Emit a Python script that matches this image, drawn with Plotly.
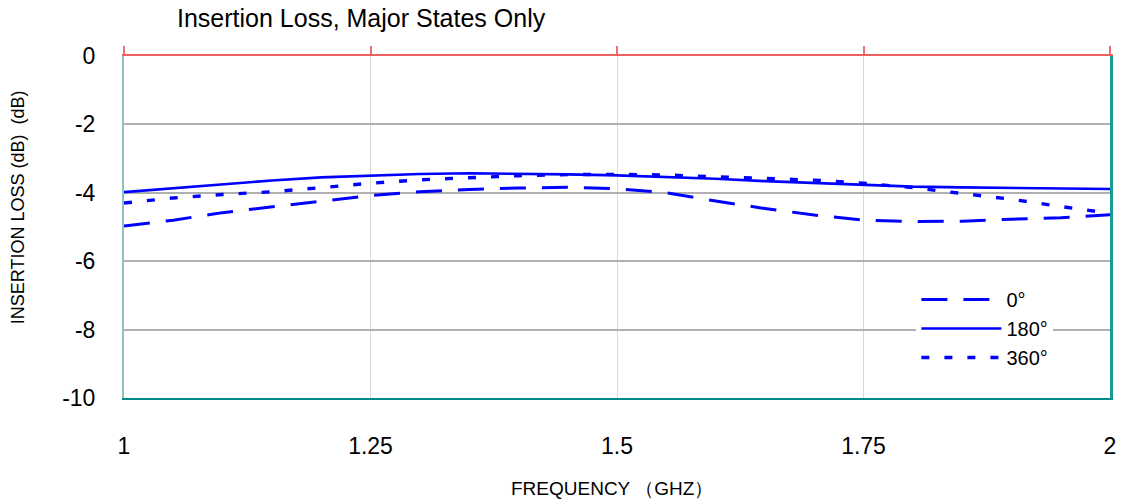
"""Insertion loss vs frequency, major phase states only."""

import plotly.graph_objects as go

freq_ghz = [1.0, 1.05, 1.1, 1.15, 1.2, 1.25, 1.3, 1.35, 1.4, 1.45, 1.5,
            1.55, 1.6, 1.65, 1.7, 1.75, 1.8, 1.85, 1.9, 1.95, 2.0]

loss_0deg = [-4.97, -4.80, -4.58, -4.42, -4.25, -4.08, -3.97, -3.90, -3.86, -3.84, -3.88,
             -4.00, -4.24, -4.46, -4.65, -4.80, -4.84, -4.83, -4.77, -4.73, -4.64]
loss_180deg = [-3.98, -3.86, -3.74, -3.64, -3.55, -3.49, -3.45, -3.43, -3.44, -3.46, -3.49,
               -3.53, -3.59, -3.66, -3.72, -3.78, -3.82, -3.84, -3.86, -3.88, -3.89]
loss_360deg = [-4.30, -4.15, -4.05, -3.97, -3.85, -3.72, -3.62, -3.55, -3.50, -3.47, -3.46,
               -3.48, -3.53, -3.56, -3.63, -3.72, -3.85, -4.02, -4.19, -4.40, -4.60]

x_ticks = [1, 1.25, 1.5, 1.75, 2]
x_tick_text = ["1", "1.25", "1.5", "1.75", "2"]
y_ticks = [0, -2, -4, -6, -8, -10]
y_tick_text = ["0", "-2", "-4", "-6", "-8", "-10"]

BLUE = "#0000FF"
FONT = "Liberation Sans, Arial, sans-serif"

fig = go.Figure()
fig.add_scatter(x=freq_ghz, y=loss_0deg, name="0°", mode="lines",
                line=dict(color=BLUE, width=3, dash="26px,16px"))
fig.add_scatter(x=freq_ghz, y=loss_180deg, name="180°", mode="lines",
                line=dict(color=BLUE, width=2.6))
fig.add_scatter(x=freq_ghz, y=loss_360deg, name="360°", mode="lines",
                line=dict(color=BLUE, width=3.4, dash="8px,15px"))

# invisible traces on the mirror axes, only to carry the frame lines and top ticks
fig.add_scatter(x=[1, 2], y=[0, 0], xaxis="x2", mode="lines",
                line=dict(width=0), showlegend=False, hoverinfo="skip")
fig.add_scatter(x=[1, 2], y=[-10, -10], yaxis="y2", mode="lines",
                line=dict(width=0), showlegend=False, hoverinfo="skip")

fig.update_layout(
    width=1128, height=503,
    margin=dict(l=124, r=16, t=56, b=105),
    paper_bgcolor="white", plot_bgcolor="white",
    font=dict(family=FONT, color="black"),
    showlegend=True,
    legend=dict(
        x=(918 - 124) / 988, y=1 - (280 - 56) / 342, xanchor="left", yanchor="top",
        bgcolor="white", borderwidth=0,
        font=dict(size=20, family=FONT),
        itemwidth=80, tracegroupgap=0,
    ),
    xaxis=dict(
        range=[1, 2], tickvals=x_ticks, ticktext=x_tick_text,
        showgrid=True, gridcolor="#D9D9D9", gridwidth=1,
        zeroline=False, showline=True, linecolor="#008B8B", linewidth=2,
        ticks="", ticklabelstandoff=26,
        tickfont=dict(size=23, family=FONT),
    ),
    xaxis2=dict(
        range=[1, 2], overlaying="x", side="top", tickvals=x_ticks,
        showticklabels=False, showgrid=False, zeroline=False,
        showline=True, linecolor="#F06060", linewidth=2,
        ticks="outside", ticklen=8, tickwidth=2, tickcolor="#F07070",
    ),
    yaxis=dict(
        range=[-10, 0], tickvals=y_ticks, ticktext=y_tick_text,
        showgrid=True, gridcolor="#B0B0B0", gridwidth=1.5,
        zeroline=False, showline=True, linecolor="#8FBFC0", linewidth=2,
        ticks="", ticklabelstandoff=22,
        tickfont=dict(size=23, family=FONT),
    ),
    yaxis2=dict(
        range=[-10, 0], overlaying="y", side="right", showticklabels=False,
        showgrid=False, zeroline=False, showline=True,
        linecolor="#1A9A9A", linewidth=2.5,
    ),
)

fig.add_annotation(
    text="Insertion Loss, Major States Only",
    xref="paper", yref="paper", x=(175 - 124) / 988, y=1 + (56 - 18) / 342,
    xanchor="left", yanchor="middle", showarrow=False,
    font=dict(size=25, family=FONT),
)
fig.add_annotation(
    text="INSERTION LOSS (dB)  (dB)",
    xref="paper", yref="paper", x=(18 - 124) / 988, y=1 - (207 - 56) / 342,
    xanchor="center", yanchor="middle", textangle=-90, showarrow=False,
    font=dict(size=18, family=FONT),
)
fig.add_annotation(
    text="FREQUENCY （GHZ）",
    xref="paper", yref="paper", x=(613 - 124) / 988, y=-(488 - 398) / 342,
    xanchor="center", yanchor="middle", showarrow=False,
    font=dict(size=19, family=FONT),
)

fig.write_html("out.html", config={"displayModeBar": False},
               post_script="document.body.style.margin = '0';")
